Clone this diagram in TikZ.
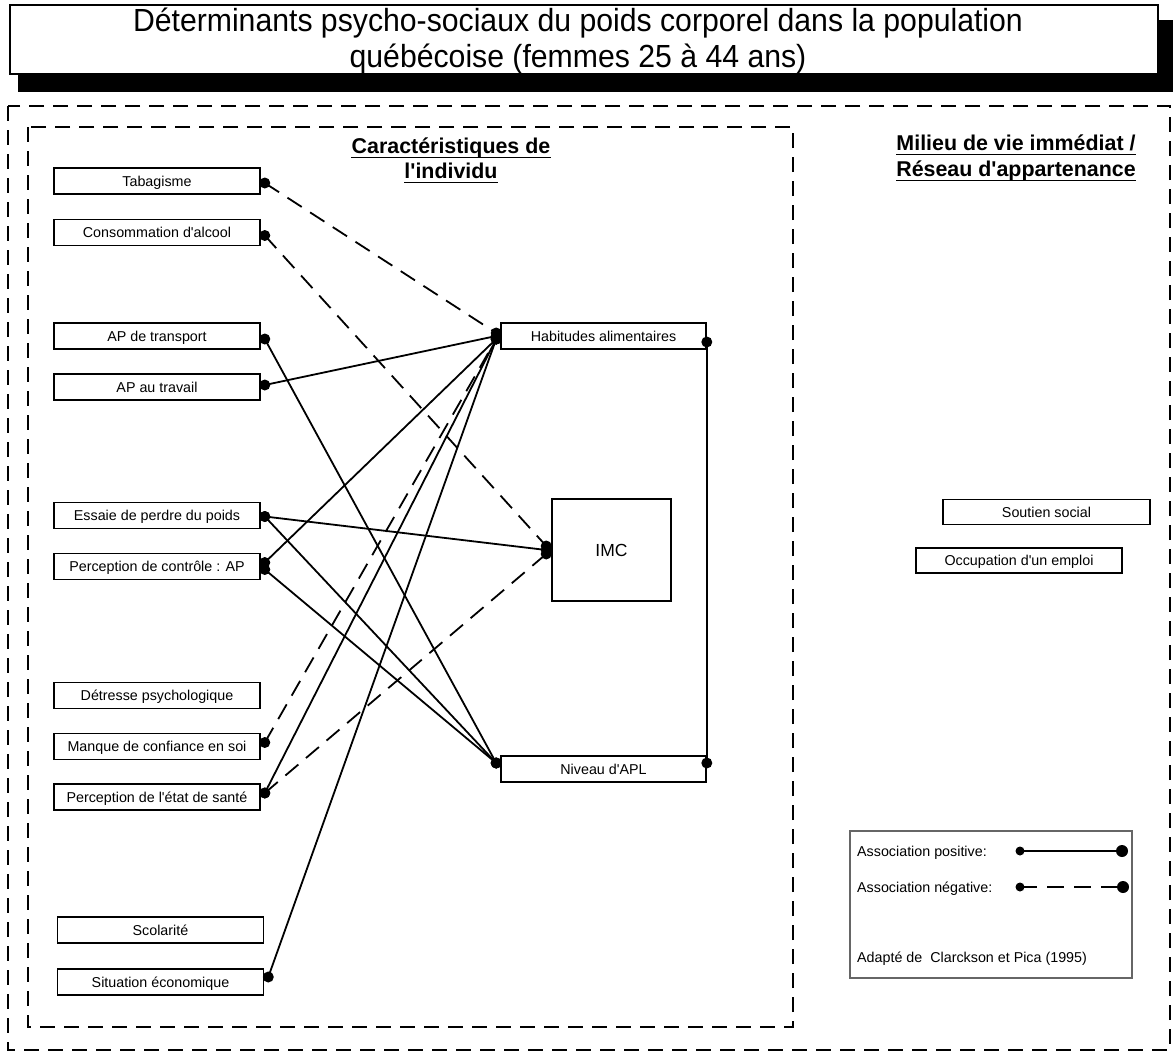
\documentclass[tikz,border=0pt]{standalone}
\usepackage{fontspec}
\setmainfont{Liberation Sans}
\newfontfamily\titlefont{Liberation Sans}[FakeStretch=0.944]
\newcommand\ap{\textquotesingle}
% association connector: line with a dot at each end
\newcommand\assoc[3]{%
  \draw[#1] (#2) -- (#3);
  \fill (#2) circle[radius=5.5pt];
  \fill (#3) circle[radius=5.5pt];}
% underline of a heading node
\newcommand\underhead[1]{%
  \draw[line width=1.8pt] ([yshift=-4.5pt]#1.base west) -- ([yshift=-4.5pt]#1.base east);}

\begin{document}
\begin{tikzpicture}[x=1pt,y=-1pt,
  box/.style={draw,line width=1.6pt,minimum height=26pt,inner sep=0pt,
    text height=10.2pt,text depth=0pt,font=\fontsize{14.3}{16}\selectfont},
  lbox/.style={box,minimum width=206pt},
  posline/.style={line width=1.8pt},
  negline/.style={line width=1.8pt,dash pattern=on 17pt off 10pt},
  frame/.style={line width=1.5pt,dash pattern=on 15pt off 9pt},
  head/.style={font=\fontsize{21.4}{26}\selectfont\bfseries,anchor=base,inner sep=0pt},
  ttl/.style={font=\titlefont\fontsize{32}{36}\selectfont,anchor=base,inner sep=0pt},
  legtext/.style={anchor=base west,inner sep=0pt,font=\fontsize{14.3}{16}\selectfont}
]
\useasboundingbox (0,0) rectangle (1173,1057);
\fill[white] (0,0) rectangle (1173,1057);

% title with drop shadow
\fill (18,20) rectangle (1173,92);
\node[draw,fill=white,line width=1.5pt,minimum width=1148pt,minimum height=69pt,
  inner sep=0pt] (title) at (584,39.5) {};
\node[ttl] (tline1) at (578,32) {Déterminants psycho-sociaux du poids corporel dans la population};
\node[ttl] (tline2) at (578,68) {québécoise (femmes 25 à 44 ans)};

% dashed frames
\draw[frame] (8,106) rectangle (1170,1050);
\draw[frame] (28,127) rectangle (793,1027);

% headings
\node[head] (car1) at (451,153) {Caractéristiques de};
\node[head] (car2) at (451,178) {l\ap individu};
\node[head] (mil1) at (1016,150) {Milieu de vie immédiat /};
\node[head] (mil2) at (1016,176) {Réseau d\ap appartenance};
\underhead{car1}\underhead{car2}\underhead{mil1}\underhead{mil2}

% individual characteristics
\node[lbox] (tab)   at (157,181)   {Tabagisme};
\node[lbox] (alc)   at (157,232.5) {Consommation d\ap alcool};
\node[lbox] (aptr)  at (157,336)   {AP de transport};
\node[lbox] (aptv)  at (157,387)   {AP au travail};
\node[lbox] (ess)   at (157,515.5) {Essaie de perdre du poids};
\node[lbox] (pcap)  at (157,566.5) {Perception de contrôle : AP};
\node[lbox] (detr)  at (157,695.5) {Détresse psychologique};
\node[lbox] (conf)  at (157,746.5) {Manque de confiance en soi};
\node[lbox] (sante) at (157,797)   {Perception de l\ap état de santé};
\node[lbox] (scol)  at (160.5,930) {Scolarité};
\node[lbox] (situ)  at (160.5,982) {Situation économique};

% outcomes
\node[box,minimum width=205pt] (hab) at (603.5,336) {Habitudes alimentaires};
\node[box,minimum width=205pt] (niv) at (603.5,769) {Niveau d\ap APL};
\node[box,minimum width=119pt,minimum height=102pt,text height=12.5pt,
  font=\fontsize{17.5}{20}\selectfont] (imc) at (611.5,550) {IMC};

% immediate environment
\node[box,minimum width=207pt,minimum height=25pt] (sout) at (1046.5,512) {Soutien social};
\node[box,minimum width=206pt,minimum height=25pt] (occ) at (1019,560.5) {Occupation d\ap un emploi};

% connector end points
\coordinate (tabR)   at ([xshift=4pt,yshift=-2pt]tab.east);
\coordinate (alcR)   at ([xshift=4pt,yshift=-3pt]alc.east);
\coordinate (aptrR)  at ([xshift=4pt,yshift=-3pt]aptr.east);
\coordinate (aptvR)  at ([xshift=4pt,yshift=2pt]aptv.east);
\coordinate (essR)   at ([xshift=4pt,yshift=-1pt]ess.east);
\coordinate (pcapU)  at ([xshift=4pt,yshift=4pt]pcap.east);
\coordinate (pcapD)  at ([xshift=4pt,yshift=-3pt]pcap.east);
\coordinate (confR)  at ([xshift=4pt,yshift=4pt]conf.east);
\coordinate (santeR) at ([xshift=4pt,yshift=4pt]sante.east);
\coordinate (situR)  at ([xshift=4pt,yshift=5pt]situ.east);
\coordinate (habT) at ([xshift=-4pt,yshift=3pt]hab.west);
\coordinate (habM) at ([xshift=-4pt]hab.west);
\coordinate (habB) at ([xshift=-4pt,yshift=-3pt]hab.west);
\coordinate (habR) at ([yshift=-6pt]hab.east);
\coordinate (nivL) at ([xshift=-4pt,yshift=6pt]niv.west);
\coordinate (nivR) at ([yshift=6pt]niv.east);
\coordinate (imcT) at ([xshift=-5pt,yshift=4pt]imc.west);
\coordinate (imcM) at ([xshift=-5pt]imc.west);
\coordinate (imcB) at ([xshift=-5pt,yshift=-4pt]imc.west);

% associations
\assoc{negline}{tabR}{habT}
\assoc{negline}{alcR}{imcT}
\assoc{posline}{aptrR}{nivL}
\assoc{posline}{aptvR}{habM}
\assoc{posline}{essR}{imcM}
\assoc{posline}{essR}{nivL}
\assoc{posline}{pcapU}{habB}
\assoc{posline}{pcapD}{nivL}
\assoc{negline}{confR}{habB}
\assoc{posline}{santeR}{habB}
\assoc{negline}{santeR}{imcB}
\assoc{posline}{situR}{habB}
\assoc{posline}{habR}{nivR}

% legend
\node[draw=black!60,line width=1.2pt,minimum width=282pt,minimum height=147pt,inner sep=0pt] (leg) at (991,904.5) {};
\node[legtext] (lgpos) at (857,856) {Association positive:};
\node[legtext] (lgneg) at (857,892) {Association négative:};
\node[legtext] (lgsrc) at (857,962) {Adapté de\ \ Clarckson et Pica (1995)};
\coordinate (lp1) at (1020,851);
\coordinate (lp2) at (1122,851);
\coordinate (ln1) at (1020,887);
\coordinate (ln2) at (1123,887);
\draw[posline] (lp1) -- (lp2);
\draw[negline] (ln1) -- (ln2);
\fill (lp1) circle[radius=4.5pt] (ln1) circle[radius=4.5pt];
\fill (lp2) circle[radius=6pt] (ln2) circle[radius=6pt];
\end{tikzpicture}
\end{document}
